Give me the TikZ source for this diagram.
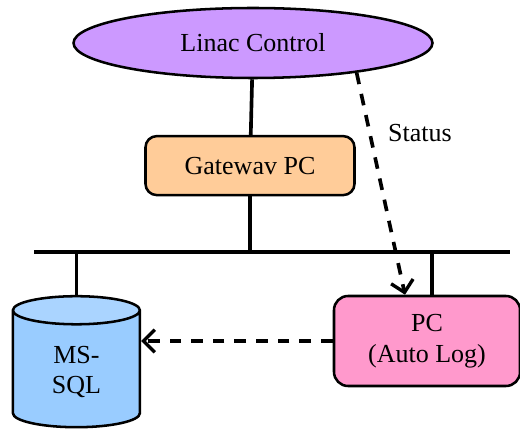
\documentclass[tikz,border=0pt]{standalone}
\usepackage{fontspec}
\setmainfont{Liberation Serif}
\newfontfamily\timesface{Liberation Serif}
\usetikzlibrary{shapes.geometric}
\usetikzlibrary{arrows.meta}

\definecolor{linacfill}{HTML}{CC99FF}
\definecolor{gwfill}{HTML}{FFCC99}
\definecolor{pcfill}{HTML}{FF99CC}
\definecolor{sqlbody}{HTML}{99CCFF}
\definecolor{sqltop}{HTML}{AAD4FF}

\begin{document}
\begin{tikzpicture}[line width=1.8pt, font=\timesface\fontsize{18.5pt}{22pt}\selectfont,
    wire/.style={line width=2.6pt},
    bus/.style={line width=3pt},
    flow/.style={line width=2.6pt, dash pattern=on 8.3pt off 7.1pt, -{Straight Barb[length=8pt,width=16pt,line width=2.4pt]}}]
    \useasboundingbox (0,0) rectangle (13,-10.75);

    % Knoten
    \node (linac) [ellipse, draw, fill=linacfill, minimum width=8.975cm, minimum height=1.75cm] at (6.325,-1.075) {Linac Control};
    \node (gw) [rectangle, rounded corners=8pt, draw, fill=gwfill, minimum width=5.225cm, minimum height=1.475cm] at (6.25,-4.14) {Gatewav PC};
    \node (sql) [cylinder, shape border rotate=90, aspect=0.48, draw, cylinder uses custom fill, cylinder body fill=sqlbody, cylinder end fill=sqltop, minimum width=3.175cm, minimum height=3.275cm, align=center] at (1.91,-9.3) {MS-\\SQL};
    \node (pc) [rectangle, rounded corners=10pt, draw, fill=pcfill, minimum width=4.65cm, minimum height=2.25cm, align=center] at (10.675,-8.525) {PC\\(Auto Log)};

    % Bus
    \coordinate (busL) at (0.85,-6.3);
    \coordinate (busR) at (12.75,-6.3);
    \draw[bus] (busL) -- (busR);

    % Verbindungen
    \draw[wire] (linac) -- (gw);
    \draw[wire] (gw.south) -- (gw.south |- busL);
    \draw[wire] (sql.top) -- (sql.top |- busL);
    \draw[wire] ([xshift=0.125cm]pc.north) -- ([xshift=0.125cm]pc.north |- busL);

    % Datenfluss
    \draw[flow] (linac.-16) -- node[pos=0.27, right=0.3cm] {Status} ([xshift=-0.55cm]pc.north);
    \draw[flow] (pc.west) -- (sql.east |- pc.west);
\end{tikzpicture}
\end{document}
